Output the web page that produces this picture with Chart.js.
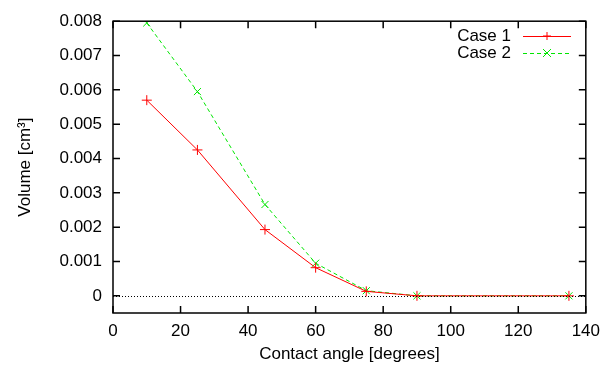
<!DOCTYPE html>
<html>
<head>
<meta charset="utf-8">
<script src="https://cdn.jsdelivr.net/npm/chart.js@4"></script>
<style>
  html, body { margin: 0; padding: 0; background: #fff; }
  #wrap { width: 608px; height: 365px; }
</style>
</head>
<body>
<div id="wrap"><canvas id="chart" width="608" height="365"></canvas></div>
<script>
// data
const angles = [10, 25, 45, 60, 75, 90, 135];
const case1 = [0.0057, 0.00425, 0.00193, 0.00082, 0.00013, 0, 0];
const case2 = [0.00795, 0.00595, 0.00266, 0.00095, 0.00015, 0, 0];
const xTicks = [0, 20, 40, 60, 80, 100, 120, 140];
const yTicks = [0, 0.001, 0.002, 0.003, 0.004, 0.005, 0.006, 0.007, 0.008];

const FONT = 'Liberation Sans, Arial, Helvetica, sans-serif';
const RED = '#ff0000';
const GREEN = '#00e600';

// frame, inward ticks on all sides, zero line and legend like gnuplot
const gnuplotLook = {
    id: 'gnuplotLook',
    afterDatasetsDraw(chart) {
        const ctx = chart.ctx;
        const a = chart.chartArea;
        const x = chart.scales.x, y = chart.scales.y;
        ctx.save();

        // dotted zero line
        ctx.strokeStyle = '#000';
        ctx.lineWidth = 1;
        ctx.setLineDash([1, 2]);
        const y0 = Math.round(y.getPixelForValue(0)) + 0.5;
        ctx.beginPath();
        ctx.moveTo(a.left, y0);
        ctx.lineTo(a.right, y0);
        ctx.stroke();
        ctx.setLineDash([]);

        // ticks
        const tl = 7;
        ctx.lineWidth = 1.5;
        ctx.beginPath();
        yTicks.forEach(v => {
            const py = y.getPixelForValue(v);
            ctx.moveTo(a.left, py); ctx.lineTo(a.left + tl, py);
            ctx.moveTo(a.right, py); ctx.lineTo(a.right - tl, py);
        });
        xTicks.forEach(v => {
            const px = x.getPixelForValue(v);
            ctx.moveTo(px, a.bottom); ctx.lineTo(px, a.bottom - tl);
            ctx.moveTo(px, a.top); ctx.lineTo(px, a.top + tl);
        });
        ctx.stroke();

        // frame
        ctx.strokeRect(a.left, a.top, a.right - a.left, a.bottom - a.top);

        // legend, top right inside the plot
        ctx.font = '17px ' + FONT;
        ctx.textAlign = 'right';
        ctx.textBaseline = 'middle';
        const textRight = 511, lineL = 523, lineR = 571;
        chart.data.datasets.forEach((ds, i) => {
            const ly = 36 + i * 17;
            ctx.fillStyle = '#000';
            ctx.fillText(ds.label, textRight, ly);
            ctx.strokeStyle = ds.borderColor;
            ctx.lineWidth = 1;
            ctx.setLineDash(ds.borderDash || []);
            ctx.beginPath();
            ctx.moveTo(lineL, ly + 0.5);
            ctx.lineTo(lineR, ly + 0.5);
            ctx.stroke();
            ctx.setLineDash([]);
            const cx = (lineL + lineR) / 2, r = 4;
            ctx.beginPath();
            if (ds.pointStyle === 'cross') {
                ctx.moveTo(cx - r, ly); ctx.lineTo(cx + r, ly);
                ctx.moveTo(cx, ly - r); ctx.lineTo(cx, ly + r);
            } else {
                ctx.moveTo(cx - r, ly - r); ctx.lineTo(cx + r, ly + r);
                ctx.moveTo(cx - r, ly + r); ctx.lineTo(cx + r, ly - r);
            }
            ctx.stroke();
        });
        ctx.restore();
    }
};

new Chart(document.getElementById('chart'), {
    type: 'line',
    data: {
        labels: angles,
        datasets: [{
            label: 'Case 1',
            data: angles.map((a, i) => ({ x: a, y: case1[i] })),
            borderColor: RED,
            backgroundColor: RED,
            borderWidth: 1,
            pointStyle: 'cross',
            pointRadius: 5,
            pointBorderWidth: 1,
            tension: 0,
            fill: false
        }, {
            label: 'Case 2',
            data: angles.map((a, i) => ({ x: a, y: case2[i] })),
            borderColor: GREEN,
            backgroundColor: GREEN,
            borderWidth: 1,
            borderDash: [4, 3],
            pointStyle: 'crossRot',
            pointRadius: 5,
            pointBorderWidth: 1,
            tension: 0,
            fill: false
        }]
    },
    options: {
        responsive: false,
        animation: false,
        layout: { padding: { left: 0, right: 16, top: 21, bottom: 0 } },
        plugins: {
            legend: { display: false },
            tooltip: { enabled: false }
        },
        scales: {
            x: {
                type: 'linear',
                min: 0,
                max: 140,
                afterFit: s => { s.height = 52; },
                afterBuildTicks: s => { s.ticks = xTicks.map(v => ({ value: v })); },
                grid: { display: false, drawTicks: false },
                border: { display: false },
                ticks: {
                    color: '#000',
                    padding: 8,
                    autoSkip: false,
                    maxRotation: 0,
                    font: { family: FONT, size: 17 },
                    callback: v => String(v)
                },
                title: {
                    display: true,
                    text: 'Contact angle [degrees]',
                    color: '#000',
                    font: { family: FONT, size: 17 },
                    padding: { top: 0, bottom: 0 }
                }
            },
            y: {
                type: 'linear',
                min: -0.0005,
                max: 0.008,
                afterFit: s => { s.width = 113; },
                afterBuildTicks: s => { s.ticks = yTicks.map(v => ({ value: v })); },
                grid: { display: false, drawTicks: false },
                border: { display: false },
                ticks: {
                    color: '#000',
                    padding: 11,
                    autoSkip: false,
                    font: { family: FONT, size: 17 },
                    callback: v => v === 0 ? '0' : v.toFixed(3)
                },
                title: {
                    display: true,
                    text: 'Volume [cm³]',
                    color: '#000',
                    font: { family: FONT, size: 17 },
                    padding: { top: 15, bottom: 0 }
                }
            }
        }
    },
    plugins: [gnuplotLook]
});
</script>
</body>
</html>
